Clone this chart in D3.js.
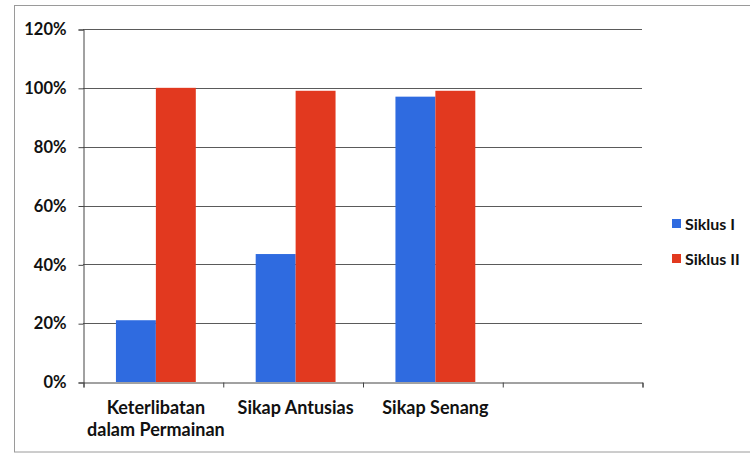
<!DOCTYPE html>
<html>
<head>
<meta charset="utf-8">
<script src="https://cdn.jsdelivr.net/npm/d3@7"></script>
<style>
  html, body { margin: 0; padding: 0; background: #ffffff; }
  svg { display: block; }
  text { font-family: Lato, "Open Sans", sans-serif; font-weight: bold; fill: #111; }
</style>
</head>
<body>
<svg id="chart" width="750" height="457"></svg>
<script>
// ---- data ----
const categories = [["Keterlibatan", "dalam Permainan"], ["Sikap Antusias"], ["Sikap Senang"], [""]];
const seriesNames = ["Siklus I", "Siklus II"];
const siklusI = [0.21, 0.435, 0.97, null];
const siklusII = [1.00, 0.99, 0.99, null];
const yTicks = [0, 0.2, 0.4, 0.6, 0.8, 1.0, 1.2];
const colors = ["#2f6be0", "#e2391f"];

// ---- layout ----
const svg = d3.select("#chart");
const plot = { left: 83, right: 642, top: 29, bottom: 382 };

// chart border (outer frame)
svg.append("rect")
  .attr("x", 14.5).attr("y", 5.5)
  .attr("width", 760).attr("height", 446.5)
  .attr("fill", "none").attr("stroke", "#9a9a9a").attr("stroke-width", 1);

const catKeys = categories.map((c, i) => i);
const x = d3.scaleBand().domain(catKeys).range([plot.left, plot.right]).paddingInner(0).paddingOuter(0);
const xs = d3.scaleBand().domain(seriesNames).range([0, x.bandwidth()]).paddingOuter(0.75).paddingInner(0).align(0.55);
const y = d3.scaleLinear().domain([0, 1.2]).range([plot.bottom, plot.top]);

// gridlines
svg.append("g").selectAll("line").data(yTicks.slice(1)).join("line")
  .attr("x1", plot.left).attr("x2", plot.right)
  .attr("y1", d => Math.round(y(d)) + 0.5).attr("y2", d => Math.round(y(d)) + 0.5)
  .attr("stroke", "#5a5a5a").attr("stroke-width", 1);

// y axis
const yAxis = d3.axisLeft(y).tickValues(yTicks).tickFormat(d3.format(".0%")).tickSize(5).tickPadding(12);
const gy = svg.append("g").attr("transform", `translate(${plot.left + 0.5},0.5)`).call(yAxis);
gy.select(".domain").attr("stroke", "#444");
gy.selectAll(".tick line").attr("stroke", "#444");
gy.selectAll(".tick text").style("font-size", "16.5px").attr("fill", "#111");

// bars
const data = catKeys.map(i => ({ i, vals: [siklusI[i], siklusII[i]] }));
const groups = svg.append("g").selectAll("g").data(data).join("g")
  .attr("transform", d => `translate(${x(d.i)},0)`);
groups.selectAll("rect").data(d => d.vals.map((v, k) => ({ v, k })).filter(e => e.v != null)).join("rect")
  .attr("x", e => xs(seriesNames[e.k]))
  .attr("width", xs.bandwidth())
  .attr("y", e => y(e.v))
  .attr("height", e => y(0) - y(e.v))
  .attr("fill", e => colors[e.k]);

// x axis
const xAxis = d3.axisBottom(d3.scaleLinear().domain([0, categories.length]).range([plot.left, plot.right]))
  .tickValues(d3.range(categories.length + 1)).tickSize(5).tickFormat("");
const gx = svg.append("g").attr("transform", `translate(0.5,${plot.bottom + 0.5})`).call(xAxis);
gx.select(".domain").attr("stroke", "#444");
gx.selectAll(".tick line").attr("stroke", "#444");

// category labels
const lab = svg.append("g").selectAll("text").data(data).join("text")
  .attr("text-anchor", "middle")
  .style("font-size", "18px")
  .attr("x", d => x(d.i) + x.bandwidth() / 2 + 3)
  .attr("y", 414);
lab.selectAll("tspan").data(d => categories[d.i]).join("tspan")
  .attr("x", function () { return d3.select(this.parentNode).attr("x"); })
  .attr("dy", (t, j) => j === 0 ? 0 : 22)
  .text(t => t);

// legend
const leg = svg.append("g").selectAll("g").data(seriesNames).join("g")
  .attr("transform", (d, i) => `translate(672,${219 + i * 35})`);
leg.append("rect").attr("width", 9).attr("height", 9).attr("fill", (d, i) => colors[i]);
leg.append("text").attr("x", 13).attr("y", 5).attr("dy", "0.35em")
  .style("font-size", "16px").text(d => d);
</script>
</body>
</html>
